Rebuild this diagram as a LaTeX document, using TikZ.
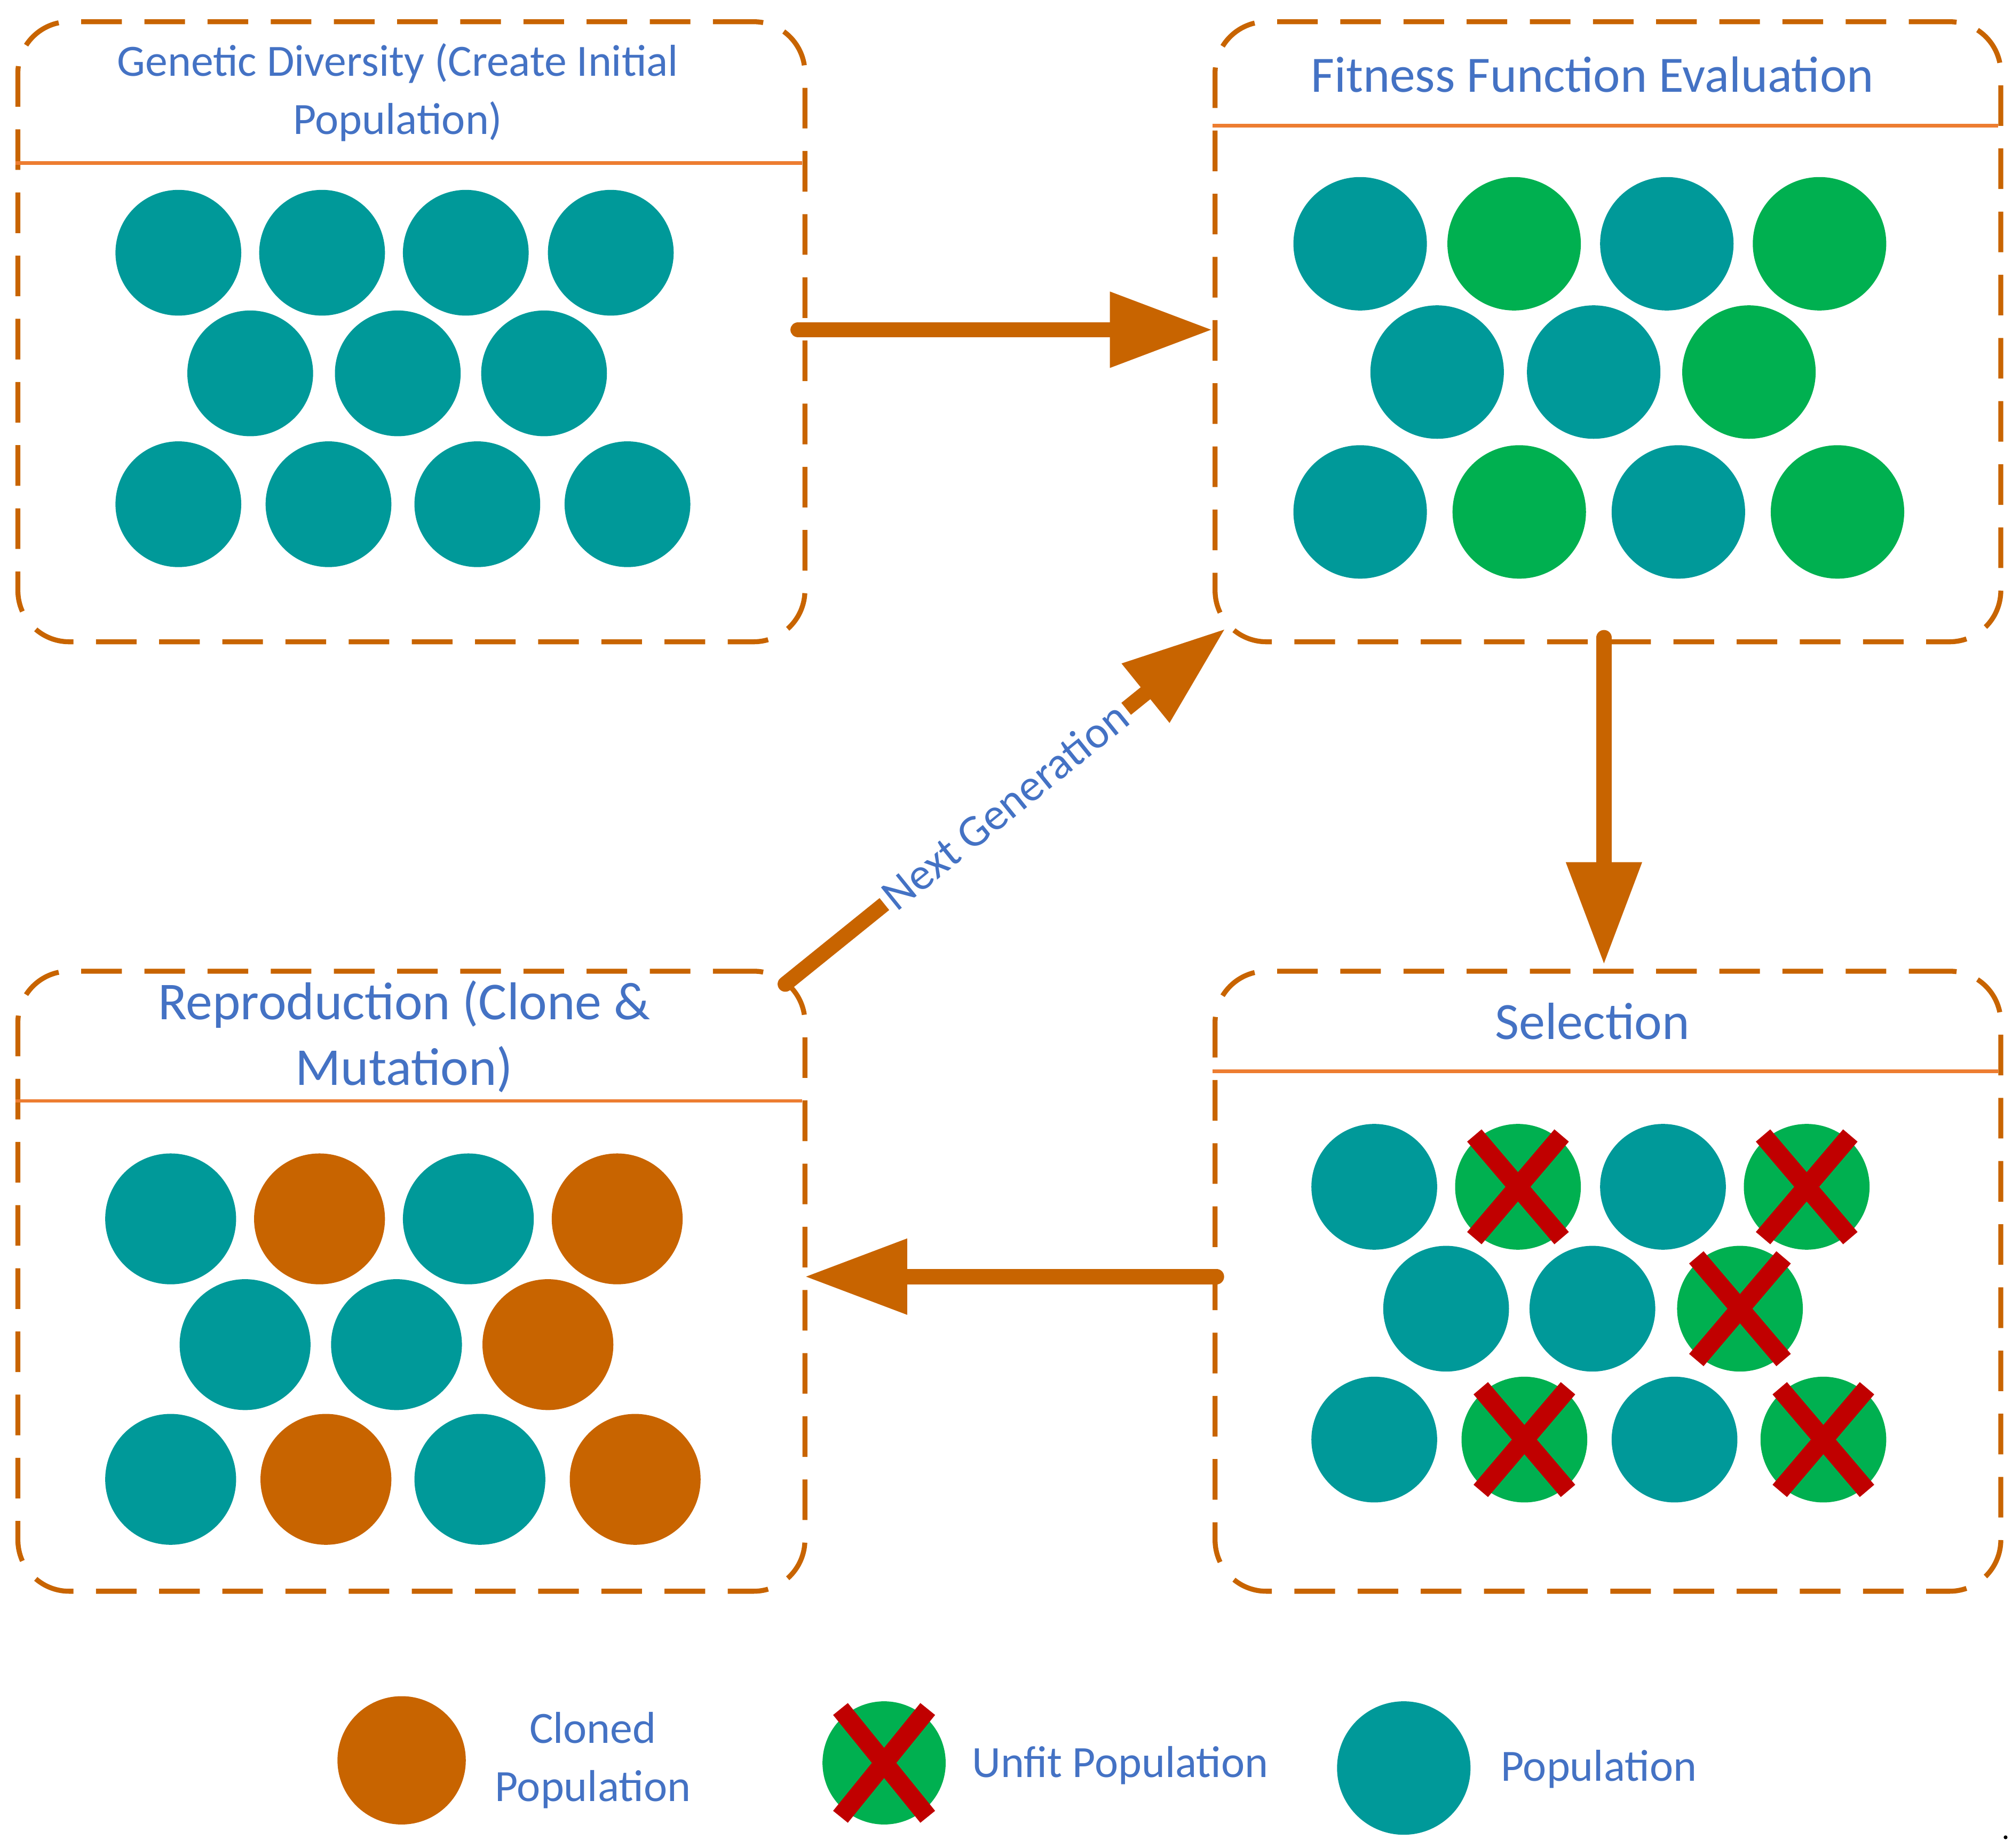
\documentclass[tikz,border=0pt]{standalone}
\usepackage{fontspec}
\setmainfont{Carlito}
\usetikzlibrary{arrows.meta}
\definecolor{teal1}{RGB}{0,153,153}
\definecolor{grn}{RGB}{0,176,80}
\definecolor{org}{RGB}{200,100,0}
\definecolor{arr}{RGB}{200,100,0}
\definecolor{hline}{RGB}{237,125,49}
\definecolor{redx}{RGB}{192,0,0}
\definecolor{txt}{RGB}{68,114,196}
\begin{document}
\begin{tikzpicture}[x=0.01cm,y=-0.01cm,
  box/.style={draw=arr,dashed,dash pattern=on 9pt off 5pt,line width=1.1pt,rounded corners=0.4cm},
  tc/.style={fill=teal1},gc/.style={fill=grn},oc/.style={fill=org},
  xm/.style={draw=redx,line width=4.2pt},
  big/.style={draw=arr,line width=3.4pt,line cap=round,-{Triangle[length=0.8cm,width=0.56cm]}},
  ttl/.style={text=txt,align=center}]
\useasboundingbox (0,0) rectangle (1568,1440);
% boxes
\node[box,minimum width=6.13cm,minimum height=4.83cm,anchor=north west] (b1) at (12,15) {};
\node[box,minimum width=6.12cm,minimum height=4.83cm,anchor=north west] (b2) at (945,15) {};
\node[box,minimum width=6.13cm,minimum height=4.83cm,anchor=north west] (b3) at (12,755) {};
\node[box,minimum width=6.12cm,minimum height=4.83cm,anchor=north west] (b4) at (945,755) {};
\draw[hline,line width=0.8pt] (12,127) -- (625,127);
\draw[hline,line width=0.8pt] (945,98) -- (1557,98);
\draw[hline,line width=0.8pt] (12,858) -- (625,858);
\draw[hline,line width=0.8pt] (945,835) -- (1557,835);
\node[ttl,font=\fontsize{9.9pt}{12.8pt}\selectfont] (t1) at (310,72) {Genetic Diversity (Create Initial\\Population)};
\node[ttl,font=\fontsize{11.3pt}{12pt}\selectfont] (t2) at (1241,58) {Fitness Function Evaluation};
\node[ttl,font=\fontsize{11.8pt}{14.5pt}\selectfont] (t3) at (315,808) {Reproduction (Clone \&\\Mutation)};
\node[ttl,font=\fontsize{11.6pt}{12pt}\selectfont] (t4) at (1241,796) {Selection};
% TL circles
\foreach \x/\y in {139/197,251/197,363/197,476/197,195/291,310/291,424/291,139/393,256/393,372/393,489/393}
  \fill[tc] (\x,\y) circle (49);
% TR circles
\foreach \x/\y/\s in {1060/190/tc,1180/190/gc,1299/190/tc,1418/190/gc,1120/290/tc,1242/290/tc,1363/290/gc,1060/399/tc,1184/399/gc,1308/399/tc,1432/399/gc}
  \fill[\s] (\x,\y) circle (52);
% BR circles
\foreach \x/\y/\s in {1071/925/tc,1183/925/gc,1296/925/tc,1408/925/gc,1127/1020/tc,1241/1020/tc,1356/1020/gc,1071/1122/tc,1188/1122/gc,1305/1122/tc,1421/1122/gc}
  \fill[\s] (\x,\y) circle (49);
\foreach \x/\y in {1183/925,1408/925,1356/1020,1188/1122,1421/1122}
  {\draw[xm] (\x-34,\y-40) -- (\x+34,\y+40); \draw[xm] (\x+34,\y-40) -- (\x-34,\y+40);}
% BL circles
\foreach \x/\y/\s in {133/950/tc,249/950/oc,365/950/tc,481/950/oc,191/1048/tc,309/1048/tc,427/1048/oc,133/1153/tc,254/1153/oc,374/1153/tc,495/1153/oc}
  \fill[\s] (\x,\y) circle (51);
% arrows
\coordinate (a1s) at (622,257); \coordinate (a1e) at (945,257);
\coordinate (a2s) at (1250,497); \coordinate (a2e) at (1250,752);
\coordinate (a3s) at (948,995); \coordinate (a3e) at (627,995);
\coordinate (a4s) at (612,767); \coordinate (a4e) at (955,490);
\draw[big] (a1s) -- (a1e);
\draw[big] (a2s) -- (a2e);
\draw[big] (a3s) -- (a3e);
\draw[big] (a4s) -- (a4e);
\node[text=txt,fill=white,inner sep=1pt,rotate=38.9,font=\fontsize{10pt}{11pt}\selectfont] (ng) at (783,628) {Next Generation};
% legend
\fill[oc] (313,1372) circle (50);
\fill[gc] (689,1374) circle (48);
\draw[xm] (689-34,1374-42) -- (689+34,1374+42); \draw[xm] (689+34,1374-42) -- (689-34,1374+42);
\fill[tc] (1094,1378) circle (52);
\node[ttl,font=\fontsize{9.9pt}{12.8pt}\selectfont] (l1) at (462,1372) {Cloned\\Population};
\node[ttl,font=\fontsize{9.9pt}{12pt}\selectfont] (l2) at (873,1376) {Unfit Population};
\node[ttl,font=\fontsize{9.9pt}{12pt}\selectfont] (l3) at (1246,1379) {Population};
\fill[black] (1563,1432) circle (1.5);
\end{tikzpicture}
\end{document}
